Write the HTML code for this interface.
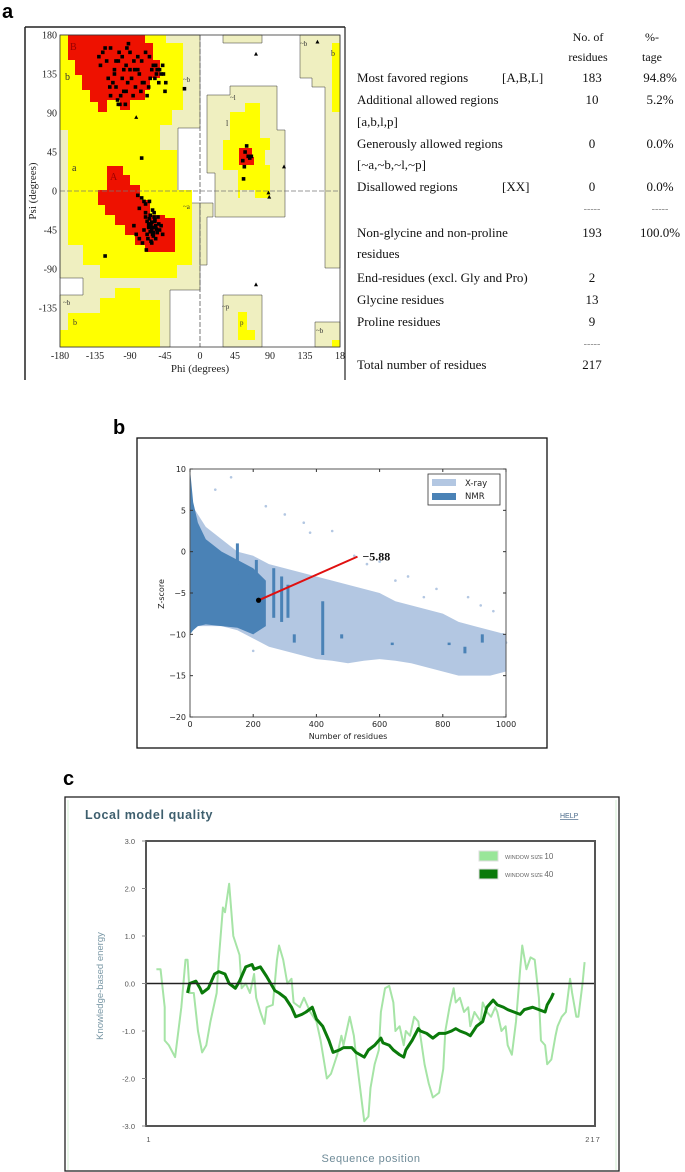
<!DOCTYPE html>
<html><head><meta charset="utf-8">
<style>
html,body{margin:0;padding:0;background:#fff;}
svg{display:block;}
.serif{font-family:"Liberation Serif",serif;}
.sans{font-family:"Liberation Sans",sans-serif;}
</style></head>
<body>
<svg id="fig" width="685" height="1172" viewBox="0 0 685 1172" xmlns="http://www.w3.org/2000/svg">
<!-- PANEL A -->
<text x="2" y="18" class="sans" font-size="20" font-weight="bold">a</text>
<g>
  <line x1="25" y1="27" x2="345" y2="27" stroke="#222" stroke-width="1.5"/>
  <line x1="25" y1="27" x2="25" y2="380" stroke="#222" stroke-width="1.5"/>
  <line x1="345" y1="27" x2="345" y2="380" stroke="#222" stroke-width="1.2"/>
  <rect x="60" y="35" width="280" height="312" fill="#fff"/>
  <g fill="#efefc0" stroke="#333" stroke-width="0.5">
    <polygon points="60,35 200,35 200,128 178,128 178,203 200,203 200,290 170,290 170,347 60,347 60,295 83,295 83,278 60,278"/>
    <polygon points="230,86 277,86 277,130 285,130 285,217 215,217 215,173 207,173 207,95 230,95"/>
    <polygon points="223,35 262,35 262,43 223,43"/>
    <polygon points="300,35 340,35 340,268 325,268 325,87 312,87 312,78 300,78"/>
    <polygon points="223,295 262,295 262,347 223,347"/>
    <polygon points="315,322 340,322 340,347 315,347"/>
    <polygon points="200,203 213,203 213,217 207,217 207,265 200,265"/>
  </g>
  <g fill="#ffff00">
    <polygon points="60,35 166,35 166,43 183,43 183,110 172,110 172,125 160,125 160,150 177,150 177,190 192,190 192,265 177,265 177,278 100,278 100,265 83,265 83,245 68,245 68,130 60,130"/>
    <polygon points="60,347 160,347 160,300 140,300 140,288 115,288 115,298 100,298 100,313 68,313 68,330 60,330"/>
    <polygon points="245,103 260,103 260,138 270,138 270,150 265,150 265,165 270,165 270,198 255,198 255,190 240,190 240,198 238,198 238,170 223,170 223,140 230,140 230,112 245,112"/>
    <polygon points="238,312 247,312 247,330 255,330 255,340 238,340"/>
    <polygon points="332,43 340,43 340,112 332,112"/>
    <polygon points="332,340 340,340 340,347 332,347"/>
  </g>
  <g fill="#ee1100">
    <polygon points="68,35 145,35 145,43 153,43 153,60 160,60 160,78 150,78 150,90 145,90 145,100 130,100 130,110 120,110 120,100 107,100 107,112 98,112 98,102 90,102 90,90 82,90 82,75 75,75 75,60 68,60"/>
    <polygon points="107,166 123,166 123,175 130,175 130,185 140,185 140,200 150,200 150,215 165,215 165,218 175,218 175,252 145,252 145,245 135,245 135,235 125,235 125,225 115,225 115,215 105,215 105,205 98,205 98,190 107,190"/>
    <polygon points="239,148 252,148 252,157 254,157 254,165 239,165"/>
  </g>
  <line x1="200" y1="35" x2="200" y2="347" stroke="#555" stroke-dasharray="5,2" stroke-width="0.8"/>
  <line x1="60" y1="191" x2="340" y2="191" stroke="#777" stroke-dasharray="5,2" stroke-width="0.8"/>
  <g class="serif" font-size="10" fill="#333">
    <text x="70" y="50" fill="#900">B</text>
    <text x="65" y="80">b</text>
    <text x="110" y="180" fill="#900">A</text>
    <text x="72" y="171">a</text>
    <text x="183" y="82" font-size="7">~b</text>
    <text x="183" y="209" font-size="7">~a</text>
    <text x="230" y="100" font-size="7">~l</text>
    <text x="226" y="126" font-size="8">l</text>
    <text x="222" y="309" font-size="7">~p</text>
    <text x="240" y="325" font-size="7">p</text>
    <text x="300" y="46" font-size="7">~b</text>
    <text x="331" y="56" font-size="8">b</text>
    <text x="316" y="333" font-size="7">~b</text>
    <text x="63" y="305" font-size="7">~b</text>
    <text x="73" y="325" font-size="8">b</text>
  </g>
  <rect x="60" y="35" width="280" height="312" fill="none" stroke="#333" stroke-width="0.8"/>
  <g id="rama-marks"></g>
  <g id="rama-axes" class="serif" font-size="10" fill="#222"></g>
  <text x="200" y="372" class="serif" font-size="11" text-anchor="middle" fill="#222">Phi (degrees)</text>
  <text transform="translate(36,191) rotate(-90)" class="serif" font-size="11" text-anchor="middle" fill="#222">Psi (degrees)</text>
</g>
<g class="serif" font-size="13" fill="#111">
  <text x="588" y="41" text-anchor="middle" font-size="12">No. of</text>
  <text x="588" y="61" text-anchor="middle" font-size="12">residues</text>
  <text x="652" y="41" text-anchor="middle" font-size="12">%-</text>
  <text x="652" y="61" text-anchor="middle" font-size="12">tage</text>
  <g><text x="357" y="82">Most favored regions</text><text x="502" y="82">[A,B,L]</text><text x="592" y="82" text-anchor="middle">183</text><text x="660" y="82" text-anchor="middle">94.8%</text></g>
  <g><text x="357" y="104">Additional allowed regions</text><text x="592" y="104" text-anchor="middle">10</text><text x="660" y="104" text-anchor="middle">5.2%</text><text x="357" y="126">[a,b,l,p]</text></g>
  <g><text x="357" y="148">Generously allowed regions</text><text x="592" y="148" text-anchor="middle">0</text><text x="660" y="148" text-anchor="middle">0.0%</text><text x="357" y="169">[~a,~b,~l,~p]</text></g>
  <g><text x="357" y="191">Disallowed regions</text><text x="502" y="191">[XX]</text><text x="592" y="191" text-anchor="middle">0</text><text x="660" y="191" text-anchor="middle">0.0%</text></g>
  <text x="592" y="212" text-anchor="middle" fill="#888" font-size="10">-----</text><text x="660" y="212" text-anchor="middle" fill="#888" font-size="10">-----</text>
  <g><text x="357" y="237">Non-glycine and non-proline</text><text x="592" y="237" text-anchor="middle">193</text><text x="660" y="237" text-anchor="middle">100.0%</text><text x="357" y="258">residues</text></g>
  <g><text x="357" y="282">End-residues (excl. Gly and Pro)</text><text x="592" y="282" text-anchor="middle">2</text></g>
  <g><text x="357" y="304">Glycine residues</text><text x="592" y="304" text-anchor="middle">13</text></g>
  <g><text x="357" y="326">Proline residues</text><text x="592" y="326" text-anchor="middle">9</text></g>
  <text x="592" y="347" text-anchor="middle" fill="#888" font-size="10">-----</text>
  <g><text x="357" y="369">Total number of residues</text><text x="592" y="369" text-anchor="middle">217</text></g>
</g>

<!-- PANEL B -->
<text x="113" y="434" class="sans" font-size="20" font-weight="bold">b</text>
<rect x="137" y="438" width="410" height="310" fill="#fff" stroke="#111" stroke-width="1.3"/>
<g id="zplot"></g>

<!-- PANEL C -->
<text x="63" y="785" class="sans" font-size="20" font-weight="bold">c</text>
<rect x="65" y="797" width="554" height="374" fill="#fff" stroke="#222" stroke-width="1.3"/>
<line x1="68" y1="800" x2="68" y2="1170" stroke="#d4f0d4" stroke-width="1"/>
<line x1="616" y1="800" x2="616" y2="1170" stroke="#d4f0d4" stroke-width="1"/>
<text x="85" y="819" class="sans" font-size="12.5" font-weight="bold" fill="#3e5f6e" letter-spacing="0.6">Local model quality</text>
<text x="560" y="818" class="sans" font-size="7" fill="#4a6a8a" text-decoration="underline">HELP</text>
<g id="qplot"></g>
</svg>

<script>
// ===== Panel A data =====
const favPhi = [-130,-125,-120,-115,-110,-105,-100,-95,-90,-85,-80,-75,-70,-65,-60,-55,-50,-128,-118,-112,-108,-102,-98,-93,-88,-83,-78,-72,-68,-62,-58,-53,-48,-122,-116,-106,-96,-86,-76,-66,-56,-110,-100,-90,-104,-94,-84,-74,-64,-57,-52,-47,-44,-115,-105,-95,-108,-98,-92,-80,
  -80,-78,-75,-72,-70,-68,-65,-63,-62,-60,-58,-57,-55,-53,-66,-64,-61,-59,-67,-63,-60,-56,-70,-65,-62,-58,-54,-50,-72,-68,-64,-60,-57,-62,-66,-59,-64,-61,-85,-82,-78,-74,-69,-48,-52,-70,-65,
  60,62,58,64,55,57,66,56, -20,-45,-75,-122,-103];
const favPsi = [155,160,150,165,140,150,155,145,160,150,140,150,160,155,145,140,135,145,130,125,120,110,115,125,130,120,135,125,110,140,130,125,145,165,120,105,100,110,115,120,135,135,130,140,160,165,140,125,130,145,140,135,125,110,100,115,150,140,170,155,
  -5,-20,-8,-12,-30,-35,-40,-38,-45,-42,-35,-40,-48,-38,-42,-47,-50,-30,-55,-58,-52,-44,-25,-32,-36,-33,-30,-40,-45,-50,-42,-48,-55,-60,-38,-25,-28,-22,-40,-50,-55,-60,-68,-50,-45,-15,-12,
  52,40,45,38,35,28,40,14, 118,115,38,-75,100];
const glyPhi = [72,151,108,72,88,89,-82];
const glyPsi = [158,172,28,-108,-2,-7,85];
const ramaTicks = [-180,-135,-90,-45,0,45,90,135,180];

const NS = "http://www.w3.org/2000/svg";
function mk(tag, attrs, parent){const e=document.createElementNS(NS,tag);for(const k in attrs)e.setAttribute(k,attrs[k]);parent.appendChild(e);return e;}
const phiX = p => 200 + p*280/360;
const psiY = s => 191 - s*312/360;

const rm = document.getElementById('rama-marks');
favPhi.forEach((p,i)=>{
  const r = mk('rect',{x:phiX(p)-1.8,y:psiY(favPsi[i])-1.8,width:3.6,height:3.6,fill:'#000'},rm);
  
  
});
glyPhi.forEach((p,i)=>{
  const x=phiX(p), y=psiY(glyPsi[i]);
  const t = mk('polygon',{points:`${x},${y-2.2} ${x+2},${y+1.6} ${x-2},${y+1.6}`,fill:'#000'},rm);
  
  
});
const ra = document.getElementById('rama-axes');
ramaTicks.forEach(v=>{
  const tx = mk('text',{x:phiX(v),y:359,'text-anchor':'middle'},ra);
  tx.textContent = v===180 ? '18' : v;
  
  
  if(v>-180){
    const ty = mk('text',{x:57,y:psiY(v)+3.5,'text-anchor':'end'},ra);
    ty.textContent = v;
    
    
  }
});

// ===== Panel B data =====
const xrayN     = [0,50,100,150,200,250,300,350,400,450,500,550,600,650,700,750,800,850,900,950,1000];
const xrayUpper = [6,3,1.5,0,-0.5,-1.5,-2,-2.5,-3,-3.5,-4,-4.5,-5,-6,-6.5,-7,-7.5,-8.5,-9,-9.5,-10];
const xrayLower = [-9,-9,-9,-9.5,-10.5,-11.5,-12,-12.5,-13,-13.2,-13.5,-13.2,-13,-13.2,-13.5,-14,-14.5,-15,-15,-15,-14.5];
const nmrN      = [0,10,25,50,100,150,200,240];
const nmrUpper  = [10,6,3.5,1.5,0,-1,-2,-3.5];
const nmrLower  = [-10,-9.5,-9,-8.8,-9,-9.2,-10,-9];
const nmrStreakN  = [150,210,265,290,310,330,420,480,640,820,870,925];
const nmrStreakLo = [-4,-4,-8,-8.5,-8,-11,-12.5,-10.5,-11.3,-11.3,-12.3,-11];
const nmrStreakHi = [1,-1,-2,-3,-4,-10,-6,-10,-11,-11,-11.5,-10];
const outN = [130,80,240,380,520,600,690,780,880,920,960,300,360,450,560,650,740,990,1000,200];
const outZ = [9,7.5,5.5,2.3,-0.5,-1.2,-3,-4.5,-5.5,-6.5,-7.2,4.5,3.5,2.5,-1.5,-3.5,-5.5,-10,-11,-12];
const zTicks = [10,5,0,-5,-10,-15,-20];
const nTicks = [0,200,400,600,800,1000];
const modelN = 217, modelZ = -5.88;

const zx = n => 190 + n*(506-190)/1000;
const zy = z => 469 + (10-z)*(717-469)/30;
const zp = document.getElementById('zplot');
mk('rect',{x:190,y:469,width:316,height:248,fill:'#fff'},zp);
function band(ns,up,lo,fill,name){
  let pts = ns.map((n,i)=>zx(n)+','+zy(up[i]));
  for(let i=ns.length-1;i>=0;i--) pts.push(zx(ns[i])+','+zy(lo[i]));
  const p = mk('polygon',{points:pts.join(' '),fill:fill},zp);
  
  
}
band(xrayN,xrayUpper,xrayLower,'#b3c7e2','xray-cloud');
band(nmrN,nmrUpper,nmrLower,'#4a82b6','nmr-cloud');
nmrStreakN.forEach((n,i)=>{
  const l = mk('line',{x1:zx(n),x2:zx(n),y1:zy(nmrStreakHi[i]),y2:zy(nmrStreakLo[i]),stroke:'#4a82b6','stroke-width':3},zp);
  
  
});
outN.forEach((n,i)=>{
  const c = mk('circle',{cx:zx(n),cy:zy(outZ[i]),r:1.3,fill:'#b3c7e2'},zp);
  
  
});
const lab = 530;
const rl = mk('line',{x1:zx(modelN),y1:zy(modelZ),x2:zx(lab),y2:zy(-0.6),stroke:'#e01010','stroke-width':2},zp);


const mp = mk('circle',{cx:zx(modelN),cy:zy(modelZ),r:2.6,fill:'#000'},zp);


const ml = mk('text',{x:zx(lab)+5,y:zy(-0.6)+4,'font-family':'Liberation Serif, serif','font-size':12,'font-weight':'bold',fill:'#111'},zp);
ml.textContent = '\u22125.88';


mk('rect',{x:190,y:469,width:316,height:248,fill:'none',stroke:'#555','stroke-width':1},zp);
zTicks.forEach(z=>{
  mk('line',{x1:190,x2:193,y1:zy(z),y2:zy(z),stroke:'#333'},zp);
  mk('line',{x1:503,x2:506,y1:zy(z),y2:zy(z),stroke:'#333'},zp);
  const t = mk('text',{x:186,y:zy(z)+3,'text-anchor':'end','font-family':'DejaVu Sans, sans-serif','font-size':8,fill:'#222'},zp);
  t.textContent = z<0 ? '\u2212'+(-z) : z;
  
  
});
nTicks.forEach(n=>{
  mk('line',{x1:zx(n),x2:zx(n),y1:714,y2:717,stroke:'#333'},zp);
  mk('line',{x1:zx(n),x2:zx(n),y1:469,y2:472,stroke:'#333'},zp);
  const t = mk('text',{x:zx(n),y:727,'text-anchor':'middle','font-family':'DejaVu Sans, sans-serif','font-size':8,fill:'#222'},zp);
  t.textContent = n;
  
  
});
const xt = mk('text',{x:348,y:739,'text-anchor':'middle','font-family':'DejaVu Sans, sans-serif','font-size':8,fill:'#222'},zp);
xt.textContent='Number of residues';


const yt = mk('text',{transform:'translate(164,594) rotate(-90)','text-anchor':'middle','font-family':'DejaVu Sans, sans-serif','font-size':8,fill:'#222'},zp);
yt.textContent='Z-score';


const lg = mk('g',{},zp);


mk('rect',{x:428,y:474,width:72,height:31,fill:'#fff',stroke:'#333','stroke-width':0.8},lg);
mk('rect',{x:432,y:479,width:24,height:7,fill:'#b3c7e2'},lg);
mk('rect',{x:432,y:493,width:24,height:7,fill:'#4a82b6'},lg);
const l1 = mk('text',{x:465,y:486,'font-family':'DejaVu Sans, sans-serif','font-size':8.5,fill:'#222'},lg); l1.textContent='X-ray';


const l2 = mk('text',{x:465,y:499,'font-family':'DejaVu Sans, sans-serif','font-size':8.5,fill:'#222'},lg); l2.textContent='NMR';



// ===== Panel C data =====
const w10Pos = [6,8,10,10,12,15,16,18,20,21,22,24,26,28,30,32,35,36,38,39,41,43,46,47,49,51,53,54,56,58,59,62,64,65,67,69,71,72,75,77,80,83,85,88,90,93,95,96,99,101,102,104,106,108,109,111,113,114,116,118,120,121,123,125,126,128,130,132,133,135,137,139,142,144,145,147,149,150,152,154,156,157,159,162,163,165,167,169,170,172,174,175,177,179,181,182,184,186,188,190,191,193,194,196,198,199,201,203,205,206,208,209,211,212];
const w10Val = [0.3,0.3,-0.5,-1.2,-1.3,-1.55,-1.2,-0.5,0.5,0.5,-0.2,-0.2,-1.0,-1.45,-1.3,-0.8,-0.2,0.5,1.6,1.5,2.1,1.0,0.6,-0.1,0.0,-0.2,0.2,-0.3,-0.6,-0.85,-0.5,-0.45,0.5,0.8,0.5,0.0,0.1,-0.4,-0.5,-0.3,-0.6,-0.8,-1.2,-2.0,-1.9,-1.5,-1.1,-1.3,-0.7,-1.1,-1.5,-2.2,-2.9,-2.8,-2.2,-1.7,-1.4,-0.6,-0.1,-0.05,-0.4,-1.0,-0.9,-1.3,-1.0,-1.1,-0.7,-0.8,-1.1,-1.7,-2.1,-2.4,-2.3,-1.8,-1.0,-0.5,-0.1,-0.4,-0.3,-0.6,-0.5,-0.9,-0.6,-0.8,-0.4,-0.6,-0.7,-0.5,-0.6,-1.0,-0.9,-1.3,-1.5,-0.8,0.3,0.8,0.3,0.55,0.5,-0.3,-1.2,-1.3,-1.7,-1.6,-1.1,-0.9,-0.7,-0.6,0.1,-0.2,-0.7,-0.7,0.0,0.45];
const w40Pos = [21,22,25,27,28,31,34,36,39,41,44,46,47,49,52,53,56,59,61,63,65,68,71,73,76,78,81,83,86,89,91,94,96,100,102,106,108,111,114,115,118,120,123,125,126,129,132,133,136,139,142,145,148,150,152,155,157,160,163,165,168,170,173,175,178,181,183,187,190,193,194,196,197];
const w40Val = [-0.2,0.0,0.05,-0.1,-0.2,-0.1,0.2,0.25,0.2,0.0,-0.1,0.05,0.15,0.35,0.4,0.3,0.35,0.15,0.0,-0.15,-0.2,-0.3,-0.5,-0.7,-0.65,-0.6,-0.5,-0.75,-0.9,-1.2,-1.45,-1.4,-1.35,-1.35,-1.45,-1.55,-1.4,-1.3,-1.15,-1.25,-1.3,-1.4,-1.5,-1.55,-1.4,-1.2,-0.95,-1.0,-1.05,-1.15,-1.05,-1.05,-1.0,-0.95,-1.0,-1.05,-1.1,-0.9,-0.8,-0.5,-0.35,-0.45,-0.5,-0.55,-0.6,-0.65,-0.55,-0.5,-0.55,-0.6,-0.45,-0.3,-0.2];
const eTicks = [3,2,1,0,-1,-2,-3];
const seqTicks = [1,217];

const qx = p => 146 + (p-1)*(595-146)/216;
const qy = v => 983.5 - v*47.5;
const qp = document.getElementById('qplot');
const pl = mk('polyline',{points:w10Pos.map((p,i)=>qx(p)+','+qy(w10Val[i])).join(' '),fill:'none',stroke:'#a6e4a6','stroke-width':2,'stroke-linejoin':'round'},qp);


const pd = mk('polyline',{points:w40Pos.map((p,i)=>qx(p)+','+qy(w40Val[i])).join(' '),fill:'none',stroke:'#0a7a0a','stroke-width':3,'stroke-linejoin':'round'},qp);


const zl = mk('line',{x1:146,x2:595,y1:qy(0),y2:qy(0),stroke:'#222','stroke-width':1.5},qp);


const fr = mk('rect',{x:146,y:qy(3),width:449,height:qy(-3)-qy(3),fill:'none',stroke:'#555','stroke-width':2},qp);


eTicks.forEach(v=>{
  mk('line',{x1:142,x2:146,y1:qy(v),y2:qy(v),stroke:'#888'},qp);
  const t = mk('text',{x:135,y:qy(v)+3,'text-anchor':'end','font-family':'Liberation Sans, sans-serif','font-size':7.5,fill:'#555'},qp);
  t.textContent = v.toFixed(1);
  
  
});
seqTicks.forEach(s=>{
  const t = mk('text',{x:qx(s)+(s===1?3:-2),y:1142,'text-anchor':'middle','font-family':'Liberation Sans, sans-serif','font-size':7.5,fill:'#555','letter-spacing':1},qp);
  t.textContent = s;
  
  
});
const sx = mk('text',{x:371,y:1162,'text-anchor':'middle','font-family':'Liberation Sans, sans-serif','font-size':11,fill:'#6f8b98','letter-spacing':0.5},qp);
sx.textContent='Sequence position';


const sy = mk('text',{transform:'translate(103,986) rotate(-90)','text-anchor':'middle','font-family':'Liberation Sans, sans-serif','font-size':9.5,fill:'#7a98a6'},qp);
sy.textContent='Knowledge-based energy';


const ql = mk('g',{},qp);


mk('rect',{x:479,y:851,width:19,height:10,fill:'#99e699',stroke:'#ddd'},ql);
mk('rect',{x:479,y:869,width:19,height:10,fill:'#0a7a0a',stroke:'#ddd'},ql);
const q1 = mk('text',{x:505,y:859,'font-family':'Liberation Sans, sans-serif','font-size':5.5,fill:'#666'},ql);
q1.textContent='WINDOW SIZE ';


const q1b = mk('tspan',{'font-size':8},q1); q1b.textContent='10';
const q2 = mk('text',{x:505,y:877,'font-family':'Liberation Sans, sans-serif','font-size':5.5,fill:'#666'},ql);
q2.textContent='WINDOW SIZE ';


const q2b = mk('tspan',{'font-size':8},q2); q2b.textContent='40';
</script>
</body></html>
